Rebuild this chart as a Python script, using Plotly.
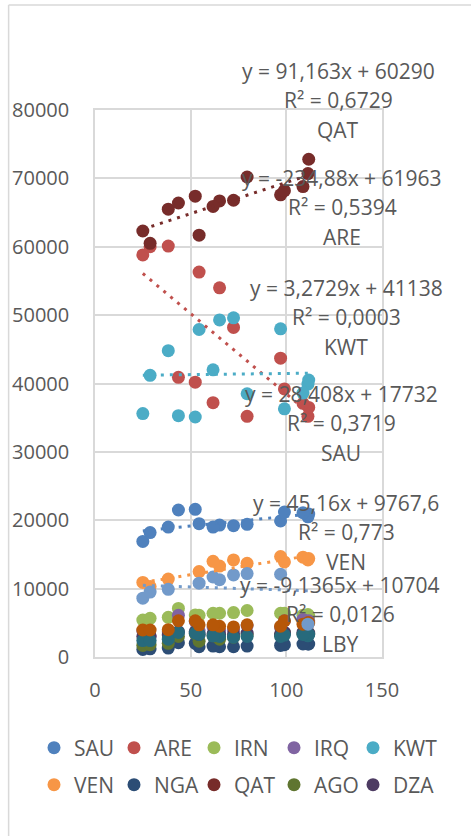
import plotly.graph_objects as go

# Brent price (x) for 2002..2016 and per-country values (y) for the same years
oil_price = [25.0, 28.8, 38.3, 54.4, 65.1, 72.4, 97.0, 61.7, 79.5, 111.3, 111.7, 108.7, 99.0, 52.4, 43.6]

SAU = [16900, 18200, 19000, 19500, 19300, 19200, 19900, 19000, 19400, 20500, 20900, 21100, 21200, 21600, 21500]
ARE = [58800, 60000, 60100, 56300, 54000, 48200, 43700, 37200, 35200, 35200, 36500, 37100, 39200, 40200, 40900]
IRN = [5400, 5650, 5800, 6100, 6400, 6500, 6400, 6400, 6800, 6200, 6000, 6100, 6400, 6150, 7100]
IRQ = [3800, 3000, 3700, 3800, 3900, 4000, 4300, 4400, 4600, 4900, 5300, 5500, 5300, 5200, 6100]
KWT = [35600, 41200, 44800, 47900, 49300, 49600, 48000, 42000, 38500, 39900, 40500, 38600, 36300, 35100, 35300]
VEN = [10900, 10300, 11400, 12500, 13300, 14200, 14700, 14000, 13700, 14200, 14400, 14600, 13900, None, None]
NGA = [1100, 1200, 1300, 1500, 1500, 1500, 1700, 1600, 1600, 1900, 1900, 1900, 1800, 2000, 2100]
QAT = [62300, 60500, 65500, 61700, 66700, 66800, 67600, 65900, 70200, 70700, 72800, 68800, 68200, 67400, 66400]
AGO = [1700, 1800, 2000, 2300, 2600, 2900, 3200, 3100, 3200, 3300, 3400, 3400, 3500, 3400, 3000]
DZA = [3000, 3100, 3200, 3300, 3300, 3400, 3400, 3400, 3500, 3500, 3500, 3600, 3600, 3700, 3700]
ECU = [2400, 2400, 2600, 3300, 3000, 2900, 3000, 3100, 3000, 3100, 3300, 3300, 3200, 3500, 3600]
GAB = [3950, 3950, 4000, 4700, 4500, 4400, 4500, 4700, 4700, 5000, 5000, 4800, 5300, 5300, 5300]
LBY = [8600, 9500, 9900, 10800, 11300, 12000, 12100, 11700, 12200, 4800, None, None, None, None, None]

series_names = ["SAU", "ARE", "IRN", "IRQ", "KWT", "VEN", "NGA", "QAT", "AGO", "DZA", "ECU", "GAB", "LBY"]
series_values = [SAU, ARE, IRN, IRQ, KWT, VEN, NGA, QAT, AGO, DZA, ECU, GAB, LBY]
series_colors = ["#4F81BD", "#C0504D", "#9BBB59", "#8064A2", "#4BACC6", "#F79646",
                 "#2C4D75", "#772C2A", "#5F7530", "#4D3B62", "#276A7C", "#B65708", "#729ACA"]

# legend: two rows of five entries (the last three series are not listed)
legend_rows = [["SAU", "ARE", "IRN", "IRQ", "KWT"], ["VEN", "NGA", "QAT", "AGO", "DZA"]]
legend_row_y = [748, 785]          # row centres, px from top
legend_col_x = [54, 134, 214, 294, 373]  # marker centres, px from left

# linear trendlines
trend_names = ["QAT", "ARE", "KWT", "SAU", "VEN", "LBY"]
trend_slope = [91.163, -234.88, 3.2729, 28.408, 45.16, -9.1365]
trend_intercept = [60290, 61963, 41138, 17732, 9767.6, 10704]
trend_eq_text = ["y = 91,163x + 60290", "y = -234,88x + 61963", "y = 3,2729x + 41138",
                 "y = 28,408x + 17732", "y = 45,16x + 9767,6", "y = -9,1365x + 10704"]
trend_r2_text = ["R² = 0,6729", "R² = 0,5394", "R² = 0,0003",
                 "R² = 0,3719", "R² = 0,773", "R² = 0,0126"]
# label anchor (centre of the R² line) in plot-area fractions
label_x = [0.848, 0.862, 0.875, 0.858, 0.875, 0.855]
label_y = [1.018, 0.823, 0.622, 0.428, 0.229, 0.0786]

W, H = 471, 836
TEXT = "#595959"
GRID = "#D9D9D9"
FONT = "Open Sans"

fig = go.Figure()

legend_of = {}
legend_layout = {}
k = 0
for r, row in enumerate(legend_rows):
    for c, name in enumerate(row):
        k += 1
        key = "legend" if k == 1 else f"legend{k}"
        legend_of[name] = key
        legend_layout[key] = dict(
            orientation="h", xref="container", yref="container",
            x=(legend_col_x[c] - 20) / W, y=1 - legend_row_y[r] / H,
            xanchor="left", yanchor="middle",
            font=dict(family=FONT, size=21, color=TEXT),
            bgcolor="rgba(0,0,0,0)", borderwidth=0,
        )

for name, vals, col in zip(series_names, series_values, series_colors):
    fig.add_trace(go.Scatter(
        x=oil_price, y=vals, mode="markers", name=name,
        marker=dict(color=col, size=13, line=dict(width=0)),
        showlegend=name in legend_of, legend=legend_of.get(name, "legend"),
    ))

for name, a, b in zip(trend_names, trend_slope, trend_intercept):
    vals = series_values[series_names.index(name)]
    col = series_colors[series_names.index(name)]
    xs = [x for x, v in zip(oil_price, vals) if v is not None]
    x0, x1 = min(xs), max(xs)
    fig.add_trace(go.Scatter(
        x=[x0, x1], y=[a * x0 + b, a * x1 + b], mode="lines",
        line=dict(color=col, width=3, dash="3px,6px"),
        showlegend=False, hoverinfo="skip",
    ))

annotations = []
for name, eq, r2, lx, ly in zip(trend_names, trend_eq_text, trend_r2_text, label_x, label_y):
    for txt, shift in ((eq, 29), (r2, 0), (name, -30)):
        annotations.append(dict(
            x=lx, y=ly, xref="paper", yref="paper", text=txt, showarrow=False,
            xanchor="center", yanchor="middle", yshift=shift,
            font=dict(family=FONT, size=21, color=TEXT),
        ))

fig.update_layout(
    width=W, height=H,
    margin=dict(l=93, r=89, t=110, b=179),
    paper_bgcolor="white", plot_bgcolor="white",
    font=dict(family=FONT, size=20, color=TEXT),
    annotations=annotations,
    showlegend=True,
    shapes=[
        # outer chart frame (left and top edges)
        dict(type="line", xref="paper", yref="paper", x0=-0.301, x1=-0.301, y0=1.192, y1=-0.4,
             line=dict(color=GRID, width=1.5), layer="below"),
        dict(type="line", xref="paper", yref="paper", x0=-0.301, x1=1.4, y0=1.192, y1=1.192,
             line=dict(color=GRID, width=1.5), layer="below"),
    ],
    **legend_layout,
)

fig.update_xaxes(
    range=[0, 150], dtick=50, tick0=0,
    showgrid=True, gridcolor=GRID, gridwidth=1.5,
    showline=True, linecolor=GRID, linewidth=1.5, mirror=True,
    zeroline=False, ticks="", ticklabelstandoff=14,
    tickfont=dict(family=FONT, size=20, color=TEXT),
)
fig.update_yaxes(
    range=[0, 80000], dtick=10000, tick0=0,
    showgrid=True, gridcolor=GRID, gridwidth=1.5,
    showline=True, linecolor=GRID, linewidth=1.5, mirror=True,
    zeroline=False, ticks="", ticklabelstandoff=20,
    tickfont=dict(family=FONT, size=20, color=TEXT),
    tickformat="d",
)

fig.write_html("out.html")
